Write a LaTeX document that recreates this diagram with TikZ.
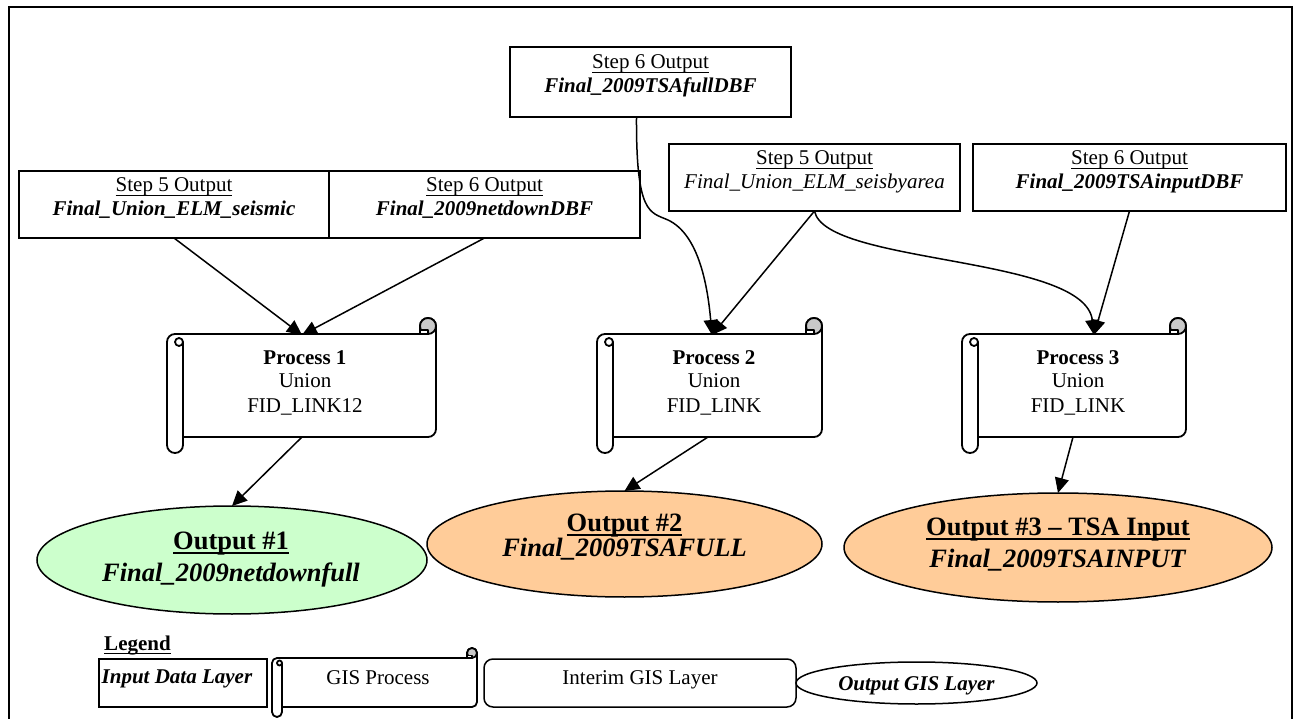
\documentclass[tikz,border=0pt]{standalone}
\usepackage{fontspec}
\setmainfont{Liberation Serif}
\usetikzlibrary{shapes.geometric,arrows.meta}
\newcommand{\undl}[1]{\mbox{\setbox0=\hbox{#1}\rlap{\vrule width\wd0 height -0.12em depth 0.18em}\box0}}
\newcommand{\bi}[1]{\textbf{\textit{#1}}}
% scroll shape: x0, y0, x1, y1 (outer box), roll size
\newcommand{\scrollshape}[5]{%
  \pgfmathsetmacro{\scrC}{#5}%
  \pgfmathsetmacro{\scrH}{#5/2}%
  \pgfmathsetmacro{\scrQ}{#5/4}%
  \draw[scrollline, fill=white]
    (#1,#2+\scrC+\scrH) arc[start angle=180,end angle=90,radius=\scrH pt]
    -- (#3-\scrC,#2+\scrC) -- (#3-\scrC,#2+\scrH)
    arc[start angle=180,end angle=0,radius=\scrH pt]
    -- (#3,#4-\scrC-\scrH) arc[start angle=0,end angle=-90,radius=\scrH pt]
    -- (#1+\scrC,#4-\scrC) -- (#1+\scrC,#4-\scrH)
    arc[start angle=0,end angle=-180,radius=\scrH pt] -- cycle;
  \draw[scrollline] (#1+\scrC,#4-\scrC) -- (#1+\scrC,#2+\scrC+\scrH);
  \draw[scrollline] (#1+\scrC-\scrQ,#2+\scrC+\scrH) circle[radius=\scrQ pt];
  \draw[scrollline, fill=curlgray] (#3-\scrH,#2+\scrH) circle[radius=\scrH pt];
  \draw[scrollline, fill=white] (#3-\scrC,#2+\scrC) rectangle (#3-\scrH,#2+\scrH+\scrQ);
}
\definecolor{curlgray}{HTML}{C8C8C8}
\definecolor{outgreen}{HTML}{CCFFCC}
\definecolor{outorange}{HTML}{FFCC99}
\begin{document}
\begin{tikzpicture}[x=1pt,y=-1pt,
  every node/.style={inner sep=0pt, outer sep=0pt},
  inbox/.style={draw, line width=1.5pt, fill=white, rectangle},
  sm/.style={font=\fontsize{21}{24}\selectfont, anchor=base},
  bg/.style={font=\fontsize{26.5}{30}\selectfont, anchor=base},
  arr/.style={line width=1.5pt, -{Triangle[length=15pt,width=14pt]}},
  scrollline/.style={line width=1.8pt, line join=round},
  outell/.style={ellipse, draw, line width=1.5pt}
]
\useasboundingbox (0,0) rectangle (1299,719);
% frame
\draw[line width=2.5pt] (9,730) -- (9,7) -- (1292,7) -- (1292,730);

% input boxes
\node[inbox, minimum width=281pt, minimum height=70pt] (tf) at (650.5,82) {};
\node[sm] (tf1) at (650.5,69) {\undl{Step 6 Output}};
\node[sm] (tf2) at (650.5,93) {\bi{Final\_2009TSAfullDBF}};

\node[inbox, minimum width=310pt, minimum height=67pt] (ls) at (174,204.5) {};
\node[sm] (ls1) at (174,192) {\undl{Step 5 Output}};
\node[sm] (ls2) at (174,216) {\bi{Final\_Union\_ELM\_seismic}};

\node[inbox, minimum width=311pt, minimum height=67pt] (ln) at (484.5,204.5) {};
\node[sm] (ln1) at (484.5,192) {\undl{Step 6 Output}};
\node[sm] (ln2) at (484.5,216) {\bi{Final\_2009netdownDBF}};

\node[inbox, minimum width=291pt, minimum height=67pt] (sb) at (814.5,177.5) {};
\node[sm] (sb1) at (814.5,165) {\undl{Step 5 Output}};
\node[sm] (sb2) at (814.5,189) {\textit{Final\_Union\_ELM\_seisbyarea}};

\node[inbox, minimum width=313pt, minimum height=67pt] (ti) at (1129.5,177.5) {};
\node[sm] (ti1) at (1129.5,165) {\undl{Step 6 Output}};
\node[sm] (ti2) at (1129.5,189) {\bi{Final\_2009TSAinputDBF}};

% processes
\scrollshape{167}{318}{436}{453}{16}
\coordinate (p1in) at (302,335);
\coordinate (p1out) at (302,437);
\node[sm] (p1a) at (305,364) {\textbf{Process 1}};
\node[sm] (p1b) at (305,388) {Union};
\node[sm] (p1c) at (305,412) {FID\_LINK12};

\scrollshape{597}{318}{822}{453}{16}
\coordinate (p2in) at (712,335);
\coordinate (p2out) at (708,437);
\node[sm] (p2a) at (714,364) {\textbf{Process 2}};
\node[sm] (p2b) at (714,388) {Union};
\node[sm] (p2c) at (714,412) {FID\_LINK};

\scrollshape{962}{318}{1186}{453}{16}
\coordinate (p3in) at (1094,335);
\coordinate (p3out) at (1073,437);
\node[sm] (p3a) at (1078,364) {\textbf{Process 3}};
\node[sm] (p3b) at (1078,388) {Union};
\node[sm] (p3c) at (1078,412) {FID\_LINK};

% outputs
\node[outell, fill=outgreen, minimum width=390pt, minimum height=108pt] (o1) at (232,560) {};
\node[bg] (o1a) at (231,549) {\textbf{\undl{Output \#1}}};
\node[bg] (o1b) at (231,581) {\bi{Final\_2009netdownfull}};

\node[outell, fill=outorange, minimum width=395pt, minimum height=106pt] (o2) at (624.5,544) {};
\node[bg] (o2a) at (624.5,531) {\textbf{\undl{Output \#2}}};
\node[bg] (o2b) at (624.5,556) {\bi{Final\_2009TSAFULL}};

\node[outell, fill=outorange, minimum width=428pt, minimum height=109pt] (o3) at (1058,547.5) {};
\node[bg] (o3a) at (1058,535) {\textbf{\undl{Output \#3 – TSA Input}}};
\node[bg] (o3b) at (1058,567) {\bi{Final\_2009TSAINPUT}};

% connectors
\draw[arr] (ls.south) -- (p1in);
\draw[arr] (ln.south) -- (p1in);
\draw[arr] ([xshift=-14pt]tf.south) .. controls (636,215) and (650,212) .. (668,220)
   .. controls (700,235) and (708,290) .. (p2in);
\draw[arr] (sb.south) -- (p2in);
\draw[arr] (sb.south) .. controls (825,265) and (1085,255) .. (p3in);
\draw[arr] (ti.south) -- (p3in);
\draw[arr] (p1out) -- (o1.north);
\draw[arr] (p2out) -- (o2.north);
\draw[arr] (p3out) -- (o3.north);

% legend
\node[sm] (leg) at (137.5,650) {\textbf{\undl{Legend}}};
\node[inbox, minimum width=168pt, minimum height=48pt] (lin) at (183,683) {};
\node[sm] (lint) at (177,683) {\bi{Input Data Layer}};
\scrollshape{272}{648}{477}{717}{10}
\node[sm] (lgis) at (378,684) {GIS Process};
\node[draw, line width=1.5pt, rounded corners=9pt, minimum width=312pt, minimum height=48pt] (lim) at (640,683) {};
\node[sm] (limt) at (640,684) {Interim GIS Layer};
\node[outell, minimum width=241pt, minimum height=42pt] (lout) at (916.5,683) {};
\node[sm] (loutt) at (916.5,690) {\bi{Output GIS Layer}};
\end{tikzpicture}
\end{document}
